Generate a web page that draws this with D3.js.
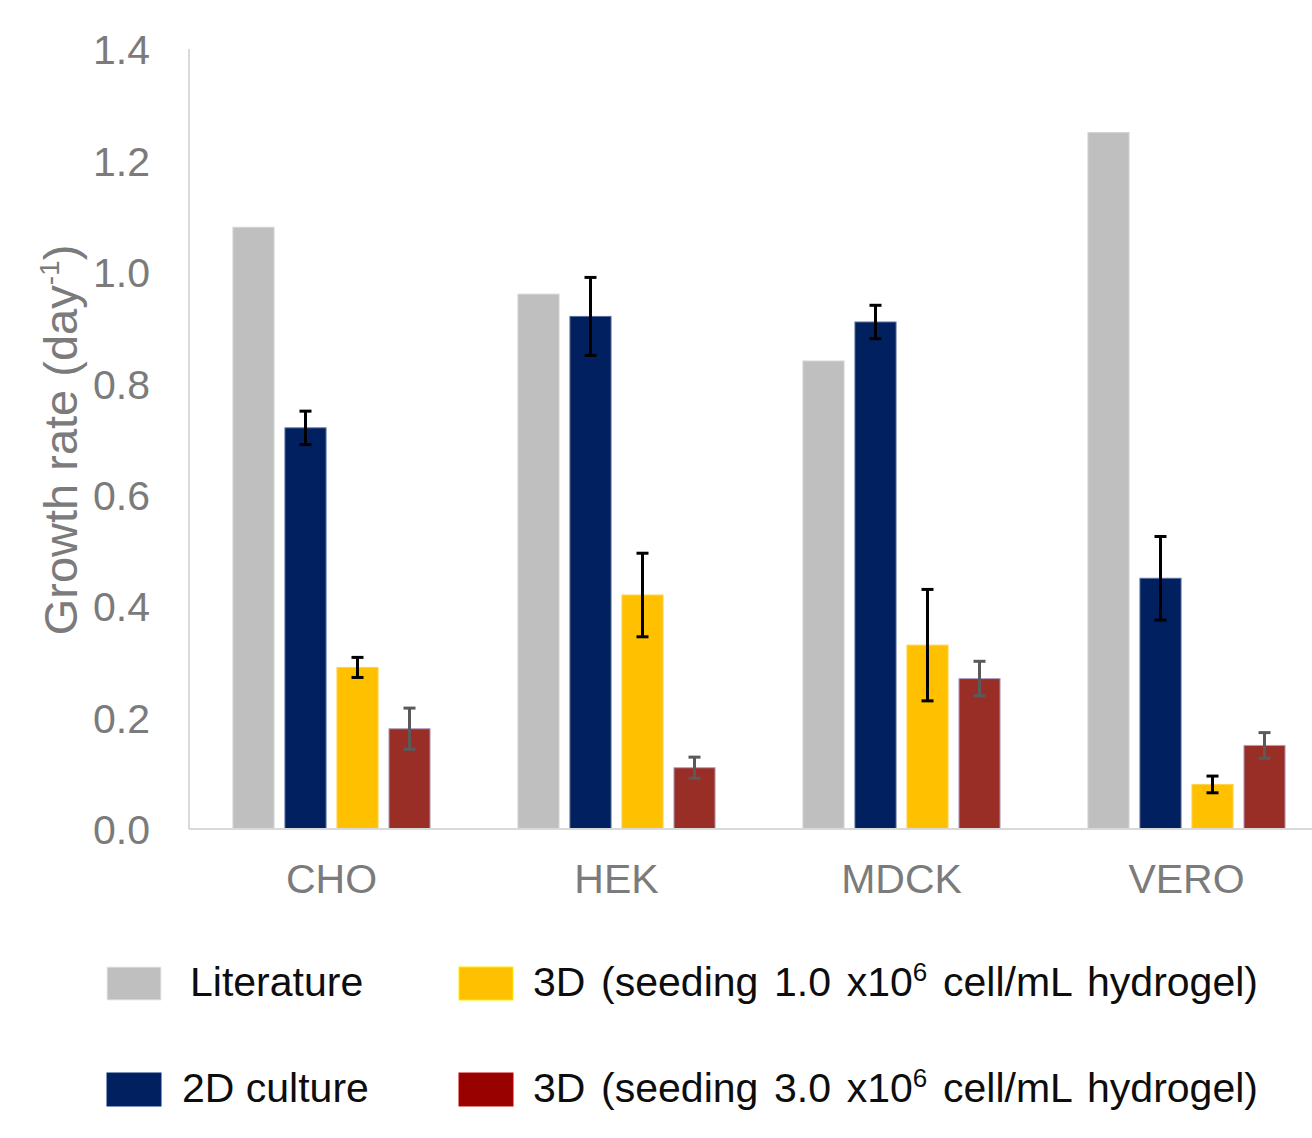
<!DOCTYPE html>
<html>
<head>
<meta charset="utf-8">
<script src="https://cdn.jsdelivr.net/npm/d3@7"></script>
<style>
  html, body { margin: 0; padding: 0; background: #fff; }
  svg { display: block; font-family: "Liberation Sans", Arial, sans-serif; }
</style>
</head>
<body>
<svg id="chart" width="1312" height="1138"></svg>
<script>
// Cell lines on the x axis
const categories = ["CHO", "HEK", "MDCK", "VERO"];
// Series names (legend order: Literature, 2D, 3D low seeding, 3D high seeding)
const seriesKeys = ["lit", "twoD", "threeD1", "threeD3"];

// Growth rates (day^-1)
const literature = [1.08, 0.96, 0.84, 1.25];
const culture2D = [0.72, 0.92, 0.91, 0.45];
const seeding1 = [0.29, 0.42, 0.33, 0.08];
const seeding3 = [0.18, 0.11, 0.27, 0.15];

// Error bar half-widths (no error for literature values)
const err2D = [0.03, 0.07, 0.03, 0.075];
const errSeeding1 = [0.018, 0.075, 0.10, 0.015];
const errSeeding3 = [0.037, 0.019, 0.031, 0.023];

const yTicks = [0.0, 0.2, 0.4, 0.6, 0.8, 1.0, 1.2, 1.4];

const seriesValues = { lit: literature, twoD: culture2D, threeD1: seeding1, threeD3: seeding3 };
const seriesErrors = { lit: null, twoD: err2D, threeD1: errSeeding1, threeD3: errSeeding3 };
const barColors = { lit: "#bfbfbf", twoD: "#002060", threeD1: "#ffc000", threeD3: "#992e27" };
const barEdges = { lit: "#d4d4d4", twoD: "#5a6d9a", threeD1: "#ffd24d", threeD3: "#b0a0c0" };
const errColors = { lit: "#000", twoD: "#000", threeD1: "#000", threeD3: "#5a5a5a" };

const svg = d3.select("#chart");
const plot = { left: 189, right: 1329, top: 49, bottom: 829 };

const y = d3.scaleLinear().domain([0, 1.4]).range([plot.bottom, plot.top]);
const x0 = d3.scaleBand().domain(categories).range([plot.left, plot.right]).paddingInner(0).paddingOuter(0);
const x1 = d3.scaleBand().domain(seriesKeys).range([0, x0.bandwidth()])
  .paddingInner(0.21).paddingOuter(0.845);

const textGrey = "#7b7b7b";
const labelSize = 41;

// Y axis line
svg.append("line")
  .attr("x1", plot.left).attr("x2", plot.left)
  .attr("y1", plot.top).attr("y2", plot.bottom)
  .attr("stroke", "#d9d9d9").attr("stroke-width", 2);

// Y tick labels
const yAxis = d3.axisLeft(y).tickValues(yTicks).tickFormat(d3.format(".1f")).tickSize(0).tickPadding(39);
const gy = svg.append("g").attr("transform", `translate(${plot.left},0)`).call(yAxis);
gy.select(".domain").remove();
gy.selectAll("text")
  .attr("font-size", labelSize).attr("fill", textGrey)
  .attr("font-family", "Liberation Sans, Arial, sans-serif")
  .attr("dy", "0.36em");

// Y axis title
const title = svg.append("text")
  .attr("transform", `translate(77,440) rotate(-90)`)
  .attr("text-anchor", "middle")
  .attr("font-size", 47)
  .attr("fill", textGrey);
title.append("tspan").text("Growth rate (day");
title.append("tspan").text("-1").attr("font-size", 28).attr("dy", -18);
title.append("tspan").text(")").attr("dy", 18);

// Bars
const groups = svg.append("g").selectAll("g")
  .data(categories)
  .join("g")
  .attr("transform", d => `translate(${x0(d)},0)`);

groups.selectAll("rect")
  .data((c, i) => seriesKeys.map(k => ({ key: k, value: seriesValues[k][i] })))
  .join("rect")
  .attr("x", d => x1(d.key))
  .attr("width", x1.bandwidth())
  .attr("y", d => y(d.value))
  .attr("height", d => y(0) - y(d.value))
  .attr("fill", d => barColors[d.key])
  .attr("stroke", d => barEdges[d.key])
  .attr("stroke-width", 1);

// Error bars
const errData = (c, i) => seriesKeys
  .filter(k => seriesErrors[k])
  .map(k => ({ key: k, value: seriesValues[k][i], err: seriesErrors[k][i] }));

const eg = groups.selectAll("g.err")
  .data(errData)
  .join("g")
  .attr("class", "err")
  .attr("stroke", d => errColors[d.key])
  .attr("stroke-width", 3);

const cx = d => x1(d.key) + x1.bandwidth() / 2;
eg.append("line")
  .attr("x1", cx).attr("x2", cx)
  .attr("y1", d => y(d.value + d.err))
  .attr("y2", d => y(d.value - d.err));
eg.append("line")
  .attr("x1", d => cx(d) - 6).attr("x2", d => cx(d) + 6)
  .attr("y1", d => y(d.value + d.err))
  .attr("y2", d => y(d.value + d.err));
eg.append("line")
  .attr("x1", d => cx(d) - 6).attr("x2", d => cx(d) + 6)
  .attr("y1", d => y(d.value - d.err))
  .attr("y2", d => y(d.value - d.err));

// X axis line (drawn over bar bases)
svg.append("line")
  .attr("x1", plot.left).attr("x2", plot.right)
  .attr("y1", plot.bottom).attr("y2", plot.bottom)
  .attr("stroke", "#d9d9d9").attr("stroke-width", 2);

// Category labels
const xAxis = d3.axisBottom(x0).tickSize(0).tickPadding(35);
const gx = svg.append("g").attr("transform", `translate(0,${plot.bottom})`).call(xAxis);
gx.select(".domain").remove();
gx.selectAll("text")
  .attr("font-size", labelSize).attr("fill", textGrey)
  .attr("font-family", "Liberation Sans, Arial, sans-serif");

// Legend
const legendItems = [
  { key: "lit", color: "#bfbfbf", x: 107, y: 967, tx: 190, parts: [["Literature"]] },
  { key: "threeD1", color: "#ffc000", x: 459, y: 967, tx: 533, width: 725,
    parts: [["3D (seeding 1.0 x10"], ["6", "sup"], [" cell/mL hydrogel)"]] },
  { key: "twoD", color: "#002060", x: 107, y: 1073, tx: 182, parts: [["2D culture"]] },
  { key: "threeD3", color: "#990000", x: 459, y: 1073, tx: 533, width: 725,
    parts: [["3D (seeding 3.0 x10"], ["6", "sup"], [" cell/mL hydrogel)"]] }
];

const lg = svg.append("g");
legendItems.forEach(item => {
  lg.append("rect")
    .attr("x", item.x).attr("y", item.y)
    .attr("width", 54).attr("height", 33)
    .attr("fill", item.color)
    .attr("stroke", d3.color(item.color).brighter(0.6)).attr("stroke-width", 1);
  const t = lg.append("text")
    .attr("x", item.tx).attr("y", item.y + 29)
    .attr("font-size", 41).attr("fill", "#0d0d0d");
  item.parts.forEach(([txt, kind], j) => {
    if (kind === "sup") {
      t.append("tspan").text(txt).attr("font-size", 26).attr("dy", -15);
    } else {
      const s = t.append("tspan").text(txt);
      if (j > 0) s.attr("dy", 15);
    }
  });
  if (item.width) {
    // spread words so the entry ends at the right margin
    const natural = t.node().getComputedTextLength();
    const gaps = item.parts.map(p => p[0]).join("").split(" ").length - 1;
    const extra = (item.width - natural) / gaps;
    if (extra > 0) t.attr("word-spacing", extra);
  }
});
</script>
</body>
</html>
